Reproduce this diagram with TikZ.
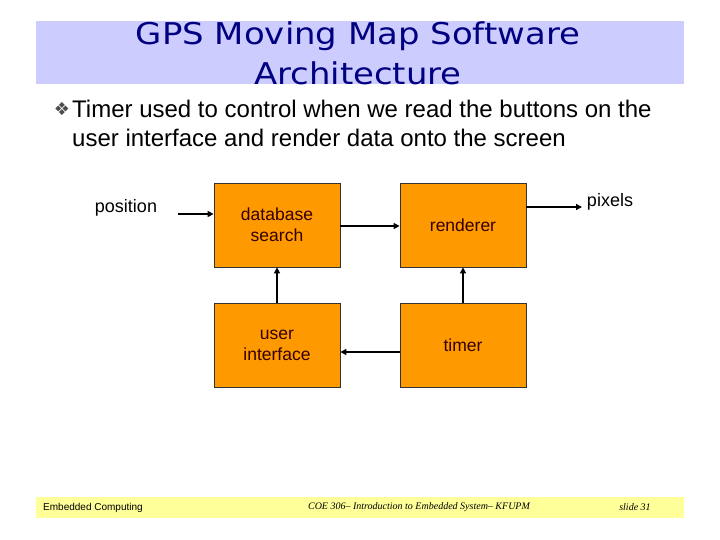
\documentclass[tikz,border=0pt]{standalone}
\usepackage{fontspec}
\setmainfont{Liberation Sans}
\newfontfamily\titlefont[FakeStretch=1.13]{DejaVu Sans}
\newfontfamily\symfont{DejaVu Sans}
\newfontfamily\footserif{Liberation Serif}
\usetikzlibrary{arrows.meta}
\definecolor{bandblue}{RGB}{204,204,255}
\definecolor{bandyellow}{RGB}{255,255,153}
\definecolor{boxorange}{RGB}{255,153,0}
\definecolor{titleblue}{RGB}{0,0,128}
\definecolor{boxtext}{RGB}{51,0,0}
\tikzset{
  block/.style={draw=black!80, line width=0.8pt, fill=boxorange, minimum width=126pt, minimum height=84pt, inner sep=0pt, font=\fontsize{17.5}{21}\selectfont, text=boxtext, align=center},
  plain/.style={inner sep=0pt, font=\fontsize{18}{21}\selectfont},
  conn/.style={line width=1.8pt, -{Triangle[length=6pt,width=6pt]}},
}
\begin{document}
\begin{tikzpicture}[x=1pt,y=-1pt]
\useasboundingbox (0,0) rectangle (720,540);
\fill[white] (0,0) rectangle (720,540);
% title band
\fill[bandblue] (36,21) rectangle (684,84);
\node[inner sep=0pt, text=titleblue, font=\titlefont\fontsize{30}{40}\selectfont, align=center] (title) at (358,53) {GPS Moving Map Software\\Architecture};
% bullet
\node[inner sep=0pt, text=black!70, font=\symfont\fontsize{18}{18}\selectfont] (bul) at (62,109) {❖};
\node[inner sep=0pt, anchor=north west, font=\fontsize{24}{29}\selectfont, align=left] (btext) at (72,99.5) {Timer used to control when we read the buttons on the\\user interface and render data onto the screen};
% blocks
\node[block] (db) at (277,225) {database\\search};
\node[block] (rend) at (463,225) {renderer};
\node[block] (ui) at (277,345) {user\\interface};
\node[block] (timer) at (463,345) {timer};
% labels
\node[plain] (pos) at (126,208) {position};
\node[plain] (pix) at (610,202) {pixels};
\coordinate (posend) at (178,214);
\coordinate (pixend) at (582,207);
% connectors
\draw[conn] (posend) -- (posend -| db.west);
\draw[conn] (db.east |- 0,226) -- (rend.west |- 0,226);
\draw[conn] (rend.east |- pixend) -- (pixend);
\draw[conn] (ui.north) -- (db.south);
\draw[conn] (timer.north) -- (rend.south);
\draw[conn] (timer.west |- 0,352) -- (ui.east |- 0,352);
% footer
\fill[bandyellow] (36,497) rectangle (684,518);
\node[inner sep=0pt, anchor=west, font=\fontsize{10}{12}\selectfont] (f1) at (43,507.5) {Embedded Computing};
\node[inner sep=0pt, font=\footserif\itshape\fontsize{10}{12}\selectfont] (f2) at (419,507.5) {COE 306– Introduction to Embedded System– KFUPM};
\node[inner sep=0pt, font=\footserif\itshape\fontsize{10}{12}\selectfont] (f3) at (635,507.5) {slide 31};
\end{tikzpicture}
\end{document}
